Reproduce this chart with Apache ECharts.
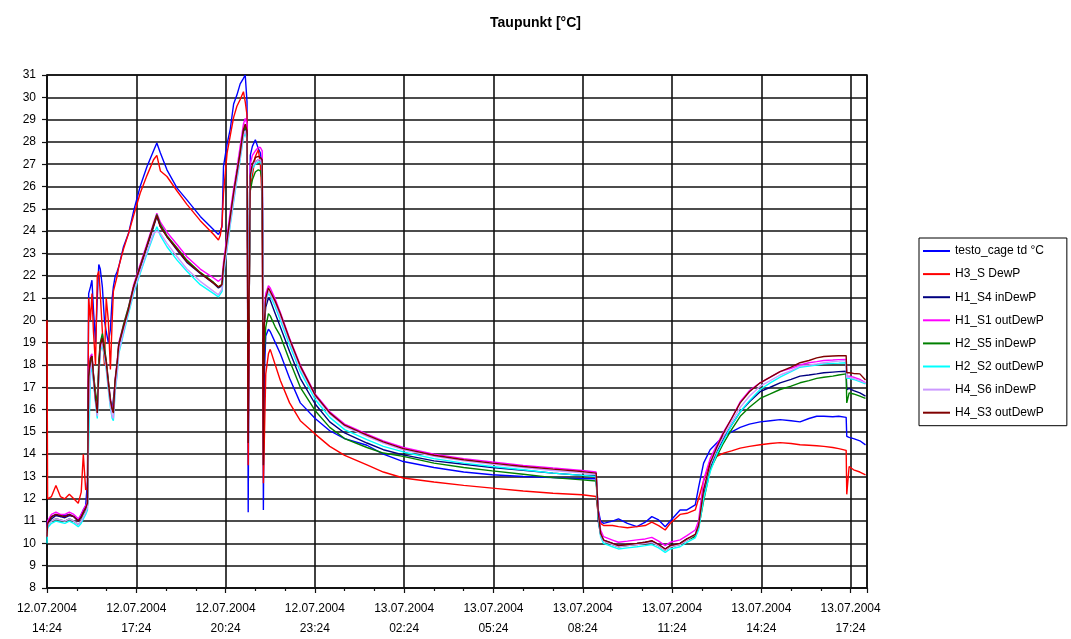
<!DOCTYPE html>
<html>
<head>
<meta charset="utf-8">
<script src="https://cdn.jsdelivr.net/npm/echarts@6/dist/echarts.min.js"></script>
<style>
html,body{margin:0;padding:0;background:#fff;}
#chart{width:1071px;height:639px;}
</style>
</head>
<body>
<div id="chart"></div>
<script>
// Hours since 12.07.2004 14:24
const T = [0.00,0.02,0.15,0.3,0.45,0.6,0.75,0.9,1.05,1.15,
1.22,1.3,1.36,1.40,1.46,1.51,1.56,1.63,1.69,1.74,
1.79,1.86,1.93,1.99,2.06,2.13,2.19,2.23,2.29,2.36,
2.41,2.57,2.74,2.91,3.13,3.36,3.58,3.69,3.81,4.03,
4.37,4.70,5.15,5.60,5.76,5.82,5.88,5.93,6.05,6.16,
6.27,6.38,6.49,6.60,6.66,6.72,6.76,6.79,6.83,6.90,
7.00,7.10,7.17,7.23,7.27,7.30,7.35,7.44,7.50,7.67,
7.84,8.15,8.51,9.01,9.5,10.0,10.75,11.3,11.97,13.0,
14.0,14.96,16.0,17.0,17.98,18.45,18.52,18.6,18.7,19.0,
19.2,19.5,19.82,20.1,20.32,20.55,20.77,20.94,21.27,21.5,
21.78,21.89,22.06,22.28,22.5,22.73,23.0,23.29,23.6,23.96,
24.3,24.63,25.0,25.3,25.6,25.86,26.1,26.4,26.6,26.85,
26.87,26.95,27.1,27.31,27.5];

const tickLabels = ["12.07.2004\n14:24","12.07.2004\n17:24","12.07.2004\n20:24","12.07.2004\n23:24",
"13.07.2004\n02:24","13.07.2004\n05:24","13.07.2004\n08:24","13.07.2004\n11:24","13.07.2004\n14:24","13.07.2004\n17:24"];

const seriesNames = ["testo_cage td °C","H3_S DewP","H1_S4 inDewP","H1_S1 outDewP","H2_S5 inDewP","H2_S2 outDewP","H4_S6 inDewP","H4_S3 outDewP"];

const testoCage = [10.8,11.0,11.2,11.3,11.2,11.25,11.3,11.2,11.0,11.3,
11.5,11.7,12.8,21.2,21.5,21.8,20.5,19.0,21.0,22.5,
22.3,21.5,20.0,19.5,19.0,19.6,21.0,21.5,21.97,22.2,
22.4,23.3,23.9,24.9,26.0,26.9,27.6,27.95,27.5,26.75,
25.93,25.4,24.66,24.06,23.85,24.0,24.2,26.9,27.9,28.6,
29.7,30.1,30.6,30.85,31.0,29.8,11.4,20.0,27.4,27.8,
28.1,27.7,27.5,26.9,11.5,17.5,19.3,19.6,19.5,19.0,
18.5,17.4,16.3,15.6,15.05,14.7,14.4,14.0,13.67,13.4,
13.2,13.08,13.0,12.95,12.9,12.9,11.5,11.0,10.9,11.0,
11.1,10.9,10.75,10.95,11.2,11.05,10.75,11.0,11.5,11.5,
11.73,12.5,13.6,14.2,14.5,14.8,15.0,15.2,15.35,15.45,
15.5,15.55,15.5,15.45,15.6,15.7,15.7,15.68,15.7,15.65,
14.8,14.75,14.7,14.6,14.42];

const h3S = [20.0,12.0,12.1,12.6,12.1,12.0,12.2,12.0,11.8,12.3,
14.0,12.4,12.5,21.0,20.0,21.2,19.5,18.0,22.0,22.2,
21.2,19.5,18.0,21.0,20.0,17.8,20.0,21.3,21.3,22.0,
22.4,23.2,23.9,24.7,25.7,26.5,27.2,27.4,26.7,26.45,
25.8,25.2,24.47,23.85,23.6,23.8,24.3,25.7,27.5,28.3,
29.1,29.6,29.9,30.25,29.8,29.2,13.5,20.5,26.0,26.5,
27.35,27.65,27.0,25.3,12.7,14.5,17.6,18.5,18.7,18.0,
17.3,16.3,15.5,14.9,14.35,13.95,13.52,13.2,12.93,12.75,
12.6,12.48,12.35,12.25,12.18,12.1,11.3,10.9,10.8,10.8,
10.75,10.7,10.75,10.8,10.95,10.8,10.6,10.9,11.3,11.35,
11.5,12.0,12.8,13.67,13.9,14.05,14.15,14.27,14.35,14.42,
14.48,14.52,14.48,14.42,14.4,14.38,14.35,14.3,14.25,14.17,
12.2,13.45,13.3,13.2,13.07];

const h1S4in = [10.5,10.9,11.1,11.25,11.2,11.15,11.25,11.2,11.0,11.15,
11.4,11.55,11.75,17.4,18.2,18.3,17.4,16.4,15.9,17.7,
18.8,19.1,18.5,18.0,17.1,16.3,15.95,15.9,17.2,18.0,
18.8,19.7,20.5,21.4,22.3,23.3,24.2,24.65,24.2,23.75,
23.15,22.6,22.1,21.65,21.45,21.4,21.55,22.3,23.5,24.6,
25.6,26.5,27.4,28.4,28.65,28.4,19.0,22.0,26.4,26.9,
27.1,27.2,27.2,27.0,18.8,19.8,20.6,21.0,20.9,20.3,
19.7,18.6,17.4,16.25,15.45,14.95,14.5,14.2,13.97,13.7,
13.55,13.4,13.28,13.15,13.05,13.05,11.0,10.4,10.15,10.0,
9.9,9.95,10.0,10.05,10.1,9.95,9.75,9.9,10.0,10.2,
10.35,10.8,12.2,13.4,14.1,14.7,15.3,15.9,16.35,16.8,
17.0,17.2,17.35,17.5,17.55,17.6,17.65,17.68,17.7,17.72,
16.9,16.95,16.85,16.75,16.6];

const h1S1out = [10.5,11.0,11.3,11.4,11.3,11.3,11.4,11.3,11.1,11.3,
11.5,11.7,11.85,17.6,18.4,18.5,17.6,16.6,16.0,17.9,
19.0,19.3,18.7,18.2,17.3,16.5,16.1,16.0,17.4,18.2,
19.0,19.8,20.6,21.6,22.5,23.45,24.35,24.8,24.4,23.95,
23.4,22.85,22.3,21.9,21.75,21.7,21.9,22.6,23.8,24.9,
25.9,26.8,27.8,28.8,29.05,28.8,19.5,22.5,27.0,27.4,
27.6,27.75,27.75,27.6,19.5,20.5,21.2,21.55,21.45,20.95,
20.35,19.2,18.0,16.7,15.9,15.35,14.9,14.6,14.3,14.0,
13.8,13.65,13.5,13.38,13.27,13.2,11.5,10.6,10.3,10.15,
10.05,10.1,10.16,10.2,10.27,10.1,9.9,10.05,10.16,10.35,
10.6,11.0,12.85,13.8,14.4,15.0,15.6,16.35,16.85,17.2,
17.45,17.7,17.85,18.0,18.1,18.15,18.2,18.22,18.24,18.25,
17.5,17.5,17.45,17.35,17.2];

const h2S5in = [10.4,10.8,11.0,11.1,11.05,11.0,11.1,11.0,10.85,11.0,
11.3,11.45,11.7,17.3,18.2,18.4,17.6,16.8,16.2,18.2,
19.0,19.4,18.8,18.2,17.3,16.4,16.0,15.9,17.3,18.1,
18.9,19.8,20.6,21.5,22.4,23.35,24.3,24.75,24.3,23.8,
23.25,22.7,22.15,21.7,21.5,21.45,21.6,22.3,23.5,24.6,
25.6,26.6,27.5,28.5,28.7,28.3,19.0,20.5,25.8,26.3,
26.65,26.75,26.7,26.3,17.6,18.5,19.7,20.3,20.2,19.7,
19.3,18.2,17.0,15.95,15.2,14.7,14.3,14.05,13.9,13.6,
13.4,13.25,13.1,12.95,12.85,12.8,11.2,10.4,10.1,9.95,
9.85,9.9,9.95,10.0,10.05,9.9,9.7,9.85,9.95,10.15,
10.3,10.7,11.9,13.3,13.9,14.5,15.1,15.7,16.1,16.5,
16.7,16.9,17.05,17.2,17.3,17.4,17.45,17.5,17.55,17.6,
16.3,16.75,16.7,16.6,16.5];

const h2S2out = [10.0,10.7,10.9,11.0,10.95,10.9,11.0,10.9,10.75,10.9,
11.1,11.3,11.5,14.5,17.5,18.0,17.3,16.3,15.6,17.5,
18.6,18.9,18.4,17.8,16.9,16.1,15.6,15.5,16.8,17.6,
18.5,19.4,20.3,21.2,22.1,23.0,23.8,24.2,23.8,23.3,
22.7,22.2,21.6,21.2,21.05,21.0,21.3,22.0,23.2,24.3,
25.3,26.3,27.2,28.2,28.4,28.1,19.8,21.5,26.3,26.8,
27.0,27.1,27.1,26.9,19.5,20.2,20.9,21.2,21.1,20.6,
20.0,18.9,17.7,16.45,15.65,15.1,14.65,14.35,14.1,13.8,
13.6,13.45,13.3,13.15,13.05,13.0,11.2,10.3,10.0,9.85,
9.75,9.8,9.85,9.9,9.95,9.8,9.6,9.75,9.85,10.05,
10.25,10.6,12.0,13.2,14.0,14.6,15.3,15.9,16.4,16.9,
17.2,17.45,17.7,17.9,17.95,18.0,18.05,18.07,18.08,18.1,
17.4,17.4,17.35,17.25,17.15];

const h4S6in = [10.3,10.8,11.0,11.1,11.05,11.0,11.1,11.0,10.85,11.0,
11.2,11.4,11.6,16.0,17.8,18.1,17.4,16.4,15.7,17.6,
18.7,19.0,18.5,17.9,17.0,16.2,15.7,15.6,16.9,17.7,
18.6,19.5,20.4,21.3,22.2,23.1,23.9,24.0,23.9,23.45,
22.85,22.3,21.75,21.3,21.15,21.1,21.4,22.1,23.3,24.4,
25.4,26.4,27.3,28.3,28.5,28.2,19.5,21.0,26.5,26.9,
27.1,27.2,27.2,27.0,19.2,20.1,20.9,21.3,21.2,20.75,
20.15,19.05,17.85,16.6,15.8,15.25,14.8,14.5,14.2,13.9,
13.7,13.55,13.4,13.27,13.17,13.1,11.3,10.4,10.1,9.95,
9.85,9.9,9.95,10.0,10.05,9.9,9.7,9.85,9.95,10.15,
10.4,10.8,12.4,13.5,14.2,14.8,15.45,16.1,16.6,17.05,
17.3,17.55,17.75,17.95,18.0,18.05,18.1,18.15,18.17,18.2,
17.45,17.45,17.4,17.3,17.2];

const h4S3out = [10.3,10.9,11.2,11.3,11.25,11.2,11.3,11.2,11.0,11.2,
11.4,11.6,11.8,17.5,18.3,18.4,17.5,16.5,15.85,17.8,
18.9,19.2,18.6,18.1,17.2,16.4,16.0,15.85,17.3,18.1,
18.9,19.7,20.5,21.5,22.4,23.35,24.25,24.7,24.2,23.75,
23.2,22.64,22.12,21.67,21.5,21.45,21.6,22.4,23.6,24.66,
25.7,26.6,27.5,28.55,28.8,28.5,14.5,21.0,26.5,27.0,
27.3,27.35,27.3,27.2,13.5,19.8,21.0,21.45,21.3,20.85,
20.3,19.15,17.95,16.65,15.85,15.3,14.85,14.55,14.25,13.95,
13.75,13.6,13.45,13.33,13.22,13.15,11.4,10.45,10.15,10.0,
9.9,9.95,10.0,10.05,10.12,9.95,9.75,9.9,10.0,10.2,
10.4,10.8,12.4,13.6,14.3,14.95,15.6,16.3,16.8,17.2,
17.45,17.7,17.9,18.1,18.2,18.32,18.38,18.4,18.41,18.42,
17.65,17.65,17.62,17.6,17.33];

const seriesValues = [testoCage, h3S, h1S4in, h1S1out, h2S5in, h2S2out, h4S6in, h4S3out];
const colors = ['#0000FF','#FF0000','#000080','#FF00FF','#008000','#00FFFF','#CC99FF','#800000'];

const FONT = "'Liberation Sans', Arial, sans-serif";
const chart = echarts.init(document.getElementById('chart'), null, {renderer:'canvas'});

const series = seriesNames.map((name, k) => ({
  name: name,
  type: 'line',
  showSymbol: false,
  symbol: 'none',
  animation: false,
  lineStyle: {width: 1.4, color: colors[k]},
  itemStyle: {color: colors[k]},
  data: T.map((t, i) => [t, seriesValues[k][i]])
}));

chart.setOption({
  animation: false,
  backgroundColor: '#fff',
  title: {
    text: 'Taupunkt [°C]',
    left: 'center',
    top: 11,
    textStyle: {fontFamily: FONT, fontSize: 14, fontWeight: 'bold', color: '#000'}
  },
  legend: {
    orient: 'vertical',
    left: 919,
    top: 238,
    padding: [6, 23, 6, 4],
    itemGap: 9.1,
    itemWidth: 27,
    itemHeight: 2,
    icon: 'rect',
    borderColor: '#000',
    borderWidth: 1,
    textStyle: {fontFamily: FONT, fontSize: 12, color: '#000', lineHeight: 14},
    data: seriesNames
  },
  grid: {
    left: 47, top: 75, width: 820, height: 513,
    show: true, borderColor: '#111', borderWidth: 1.5, backgroundColor: 'transparent'
  },
  xAxis: {
    type: 'value',
    min: 0, max: 27.55, interval: 3,
    axisLine: {show: true, lineStyle: {color: '#111', width: 1.5}},
    axisTick: {show: true, length: 5, lineStyle: {color: '#111', width: 1.2}},
    minorTick: {show: true, splitNumber: 3, length: 3, lineStyle: {color: '#111', width: 1.2}},
    splitLine: {show: true, lineStyle: {color: '#111', width: 1.6}},
    axisLabel: {
      showMaxLabel: false,
      margin: 11,
      fontFamily: FONT, fontSize: 12, color: '#000', lineHeight: 20,
      formatter: function (v) {
        const k = Math.round(v / 3);
        return (Math.abs(v - k * 3) < 1e-6 && tickLabels[k]) ? tickLabels[k] : '';
      }
    }
  },
  yAxis: {
    type: 'value',
    min: 8, max: 31, interval: 1,
    axisLine: {show: true, lineStyle: {color: '#111', width: 1.5}},
    axisTick: {show: true, length: 5, lineStyle: {color: '#111', width: 1.2}},
    splitLine: {show: true, lineStyle: {color: '#111', width: 1.6}},
    axisLabel: {margin: 11, fontFamily: FONT, fontSize: 12, color: '#000'}
  },
  series: series
});
</script>
</body>
</html>
